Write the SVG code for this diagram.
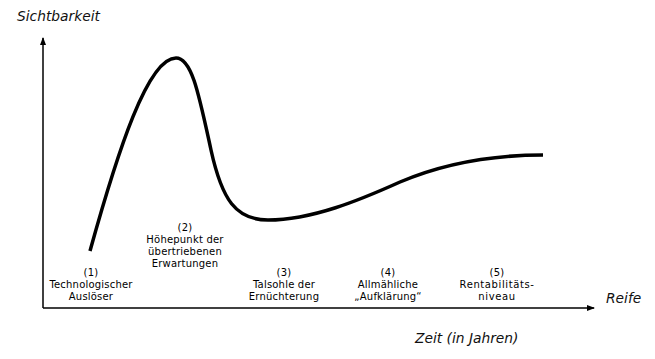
<svg xmlns="http://www.w3.org/2000/svg" width="655" height="359" viewBox="0 0 655 359">
<style>
.ax{stroke:#000;stroke-width:1.5;fill:none}
.curve{stroke:#000;stroke-width:3.5;fill:none;stroke-linecap:butt}
.lbl{font-family:"DejaVu Sans",Verdana,sans-serif;font-size:10px;fill:#000;text-anchor:middle;letter-spacing:0.2px}
.ttl{font-family:"DejaVu Sans",Verdana,sans-serif;font-size:13.8px;font-style:italic;fill:#111}
</style>
<defs>
<marker id="ah" markerWidth="8" markerHeight="8" refX="7" refY="4" orient="auto" markerUnits="userSpaceOnUse">
<path d="M0,1 L8,4 L0,7 Z" fill="#000"/>
</marker>
</defs>
<rect width="655" height="359" fill="#fff"/>
<g id="connectors">
<line id="yaxis" class="ax" x1="43" y1="308" x2="43" y2="38" marker-end="url(#ah)"/>
<line id="xaxis" class="ax" x1="43" y1="308" x2="594" y2="308" marker-end="url(#ah)"/>
<path id="hype" class="curve" d="M90,251 C118,150 148,58 176,58 C192,58 199,95 211,150 C222,200 236,220 268,220 C312,220 360,200 400,182 C440,165 490,155 543,155"/>
</g>
<g id="title-y"><text class="ttl" x="17" y="21">Sichtbarkeit</text></g>
<g id="title-x1"><text class="ttl" x="606" y="303">Reife</text></g>
<g id="title-x2"><text class="ttl" x="415" y="343">Zeit (in Jahren)</text></g>
<g id="n1"><text class="lbl" x="91" y="276">(1)</text><text class="lbl" x="91" y="288">Technologischer</text><text class="lbl" x="91" y="300">Auslöser</text></g>
<g id="n2"><text class="lbl" x="185" y="231">(2)</text><text class="lbl" x="185" y="243">Höhepunkt der</text><text class="lbl" x="185" y="255">übertriebenen</text><text class="lbl" x="185" y="267">Erwartungen</text></g>
<g id="n3"><text class="lbl" x="284" y="276">(3)</text><text class="lbl" x="284" y="288">Talsohle der</text><text class="lbl" x="284" y="300">Ernüchterung</text></g>
<g id="n4"><text class="lbl" x="388" y="276">(4)</text><text class="lbl" x="388" y="288">Allmähliche</text><text class="lbl" x="388" y="300">„Aufklärung“</text></g>
<g id="n5"><text class="lbl" x="497" y="276">(5)</text><text class="lbl" x="497" y="288" style="letter-spacing:0.6px">Rentabilitäts-</text><text class="lbl" x="497" y="300" style="letter-spacing:0.6px">niveau</text></g>
</svg>
